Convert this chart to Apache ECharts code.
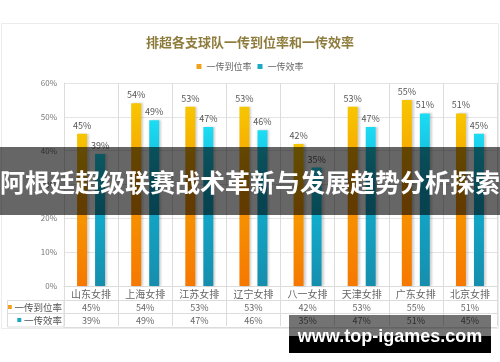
<!DOCTYPE html>
<html><head><meta charset="utf-8">
<script src="https://cdn.jsdelivr.net/npm/echarts@6/dist/echarts.min.js"></script>
<style>html,body{margin:0;padding:0;background:#fff}#c{width:500px;height:362px}</style>
</head><body><div id="c"></div>
<script>
const categories = ['山东女排','上海女排','江苏女排','辽宁女排','八一女排','天津女排','广东女排','北京女排'];
const seriesNames = ['一传到位率','一传效率'];
const passRate = [45, 54, 53, 53, 42, 53, 55, 51];
const passEfficiency = [39, 49, 47, 46, 35, 47, 51, 45];
const yTicks = [0, 10, 20, 30, 40, 50, 60];
const titleText = '排超各支球队一传到位率和一传效率';
const bannerText = '阿根廷超级联赛战术革新与发展趋势分析探索';
const watermarkText = 'www.top-igames.com';

const FONT = '"Noto Sans CJK SC", "Noto Sans", sans-serif';
const gridCol = '#dcdcdc';
const orangeGrad = {type:'linear',x:0,y:0,x2:0,y2:1,colorStops:[{offset:0,color:'#f7c600'},{offset:0.45,color:'#f79a00'},{offset:1,color:'#f67800'}]};
const cyanGrad = {type:'linear',x:0,y:0,x2:0,y2:1,colorStops:[{offset:0,color:'#1cdcf4'},{offset:0.45,color:'#12aacb'},{offset:1,color:'#168ead'}]};
const legendCol = ['#f2a21a','#1ba9c4'];

function tableAxis(offset, values, name, color, showLabel) {
  return {
    type:'category', data:categories, position:'bottom', offset:offset, gridIndex:0,
    axisLine:{show:true, lineStyle:{color:gridCol}},
    axisTick:{show:showLabel, length:13, lineStyle:{color:gridCol}},
    axisLabel:{show:showLabel, margin:3, fontSize:9, color:'#666', fontFamily:FONT,
      formatter:(v,i)=> values ? values[i] + '%' : v},
    splitLine:{show:false},
    name: name || '', nameLocation:'start', nameGap:2,
    nameTextStyle: name ? {verticalAlign:'top', padding:[1,0,0,0], fontFamily:FONT,
      rich:{sq:{width:4,height:4,backgroundColor:color}, t:{fontSize:9.5,color:'#555',fontFamily:FONT}}} : {}
  };
}

const chart = echarts.init(document.getElementById('c'));
const xAxes = [
  {type:'category', data:categories, position:'bottom', offset:0,
   axisLine:{show:true, lineStyle:{color:gridCol}},
   axisTick:{show:true, length:14, lineStyle:{color:gridCol}},
   axisLabel:{margin:3, fontSize:10, color:'#666', fontFamily:FONT},
   splitLine:{show:true, lineStyle:{color:gridCol}}},
  tableAxis(14, passRate, '{sq|} {t|'+seriesNames[0]+'}', legendCol[0], true),
  tableAxis(27, passEfficiency, '{sq|} {t|'+seriesNames[1]+'}', legendCol[1], true),
  tableAxis(41, null, '', null, false)
];

chart.setOption({
  animation:false,
  backgroundColor:'#fff',
  title:{text:titleText, left:'center', top:31, textStyle:{fontSize:13, fontWeight:'bold', color:'#8e7c3c', fontFamily:FONT}},
  legend:{top:57, left:'center', icon:'rect', itemWidth:5, itemHeight:5, itemGap:6,
    textStyle:{fontSize:9, color:'#666', fontFamily:FONT},
    data:[{name:seriesNames[0], itemStyle:{color:legendCol[0]}},{name:seriesNames[1], itemStyle:{color:legendCol[1]}}]},
  grid:{left:64, right:3, top:83, bottom:76, containLabel:false},
  xAxis: xAxes,
  yAxis:{type:'value', min:yTicks[0], max:yTicks[yTicks.length-1], interval:10,
    axisLine:{show:true, lineStyle:{color:gridCol}}, axisTick:{show:false},
    axisLabel:{formatter:'{value}%', fontSize:8, color:'#777', margin:7, fontFamily:FONT},
    splitLine:{show:true, lineStyle:{color:'#e4e4e4'}}},
  series:[
    {name:seriesNames[0], type:'bar', data:passRate, barWidth:10, barGap:'80%',
     itemStyle:{color:orangeGrad, shadowColor:'rgba(0,0,0,0.18)', shadowOffsetX:2, shadowBlur:2},
     label:{show:true, position:'top', distance:4, formatter:'{c}%', fontSize:9, color:'#555', fontFamily:FONT}},
    {name:seriesNames[1], type:'bar', data:passEfficiency, barWidth:10,
     itemStyle:{color:cyanGrad, shadowColor:'rgba(0,0,0,0.18)', shadowOffsetX:2, shadowBlur:2},
     label:{show:true, position:'top', distance:4, formatter:'{c}%', fontSize:9, color:'#555', fontFamily:FONT}}
  ],
  graphic:[
    {type:'rect', z:-10, shape:{x:1.5, y:23.5, width:497, height:305}, style:{fill:'none', stroke:'#ececec', lineWidth:1}},
    {type:'rect', z:10, shape:{x:7.5, y:300.5, width:56.5, height:26.5}, style:{fill:'none', stroke:gridCol, lineWidth:1}},
    {type:'line', z:10, shape:{x1:7.5, y1:313.5, x2:64, y2:313.5}, style:{stroke:gridCol, lineWidth:1}},
    {type:'rect', z:100, shape:{x:0, y:147, width:500, height:68}, style:{fill:'rgba(0,0,0,0.6)'}},
    {type:'text', z:101, x:250, y:182, style:{text:bannerText, fill:'#fff', font:'bold 25px '+FONT, textAlign:'center', textVerticalAlign:'middle'}},
    {type:'rect', z:100, shape:{x:289, y:315, width:202, height:21}, style:{fill:'rgba(0,0,0,0.55)'}},
    {type:'rect', z:100, shape:{x:289, y:336, width:202, height:17}, style:{fill:'#000'}},
    {type:'text', z:101, x:390, y:337, style:{text:watermarkText, fill:'#fff', font:'bold 18px "Liberation Sans", Arial, sans-serif', textAlign:'center', textVerticalAlign:'middle'}}
  ]
});
</script></body></html>
